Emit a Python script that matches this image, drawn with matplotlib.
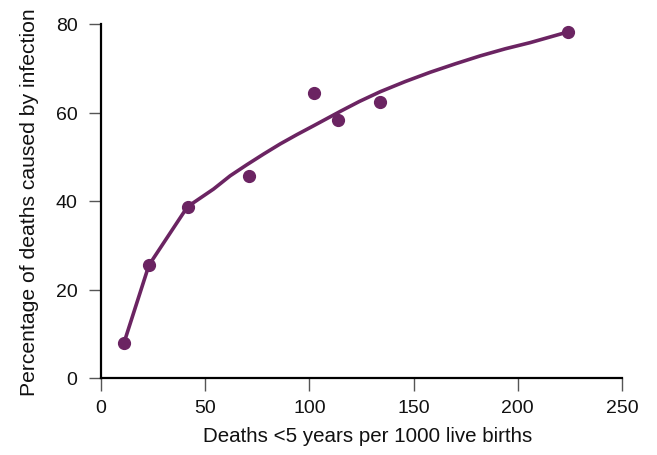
import matplotlib
matplotlib.use("Agg")
import matplotlib.pyplot as plt

# Data points
pts_x = [11.0, 23.0, 41.7, 71.0, 102.3, 113.9, 133.9, 224.1]
pts_y = [7.9, 25.5, 38.6, 45.6, 64.4, 58.3, 62.4, 78.2]

# Fitted curve
curve_x = [11.0, 23.0, 41.5, 54.0, 62.0, 70.0, 78.0, 86.0, 94.0, 102.0, 115.0, 124.0, 134.0, 146.0, 158.0, 170.0, 182.0, 194.0, 206.0, 215.0, 224.0]
curve_y = [7.9, 25.5, 38.7, 42.7, 45.7, 48.2, 50.6, 52.9, 55.0, 57.0, 60.3, 62.5, 64.7, 67.0, 69.1, 71.0, 72.8, 74.4, 75.8, 77.0, 78.2]

xticks = [0, 50, 100, 150, 200, 250]
yticks = [0, 20, 40, 60, 80]

color = "#6B2462"
plt.rcParams['font.family'] = ['Liberation Sans', 'DejaVu Sans']

fig = plt.figure(figsize=(6.57, 4.56), dpi=100)
ax = fig.add_axes([101/657, 1-379/456, 521/657, 354/456])

ax.plot(curve_x, curve_y, color=color, lw=2.6, solid_capstyle='round', solid_joinstyle='round', zorder=2)
ax.plot(pts_x, pts_y, 'o', color=color, ms=8.5, mec=color, zorder=3)

ax.set_xlim(0, 250)
ax.set_ylim(0, 80)
ax.set_xticks(xticks)
ax.set_yticks(yticks)
ax.tick_params(axis='both', direction='out', length=9, width=1.0, color='#555555',
               labelsize=14, labelcolor='#111111')
ax.tick_params(axis='x', pad=6)
ax.tick_params(axis='y', pad=8)
for s in ['top', 'right']:
    ax.spines[s].set_visible(False)
for s in ['left', 'bottom']:
    ax.spines[s].set_linewidth(1.6)
    ax.spines[s].set_color('black')

ax.set_xlabel("Deaths <5 years per 1000 live births", fontsize=14.8, labelpad=11, color='#111111')
ax.xaxis.set_label_coords(0.5 + 6/521, -0.137)
ax.xaxis.label.set_verticalalignment('top')
ax.set_ylabel("Percentage of deaths caused by infection", fontsize=15.2, labelpad=12, color='#111111')

fig.savefig("out.png", dpi=100)
